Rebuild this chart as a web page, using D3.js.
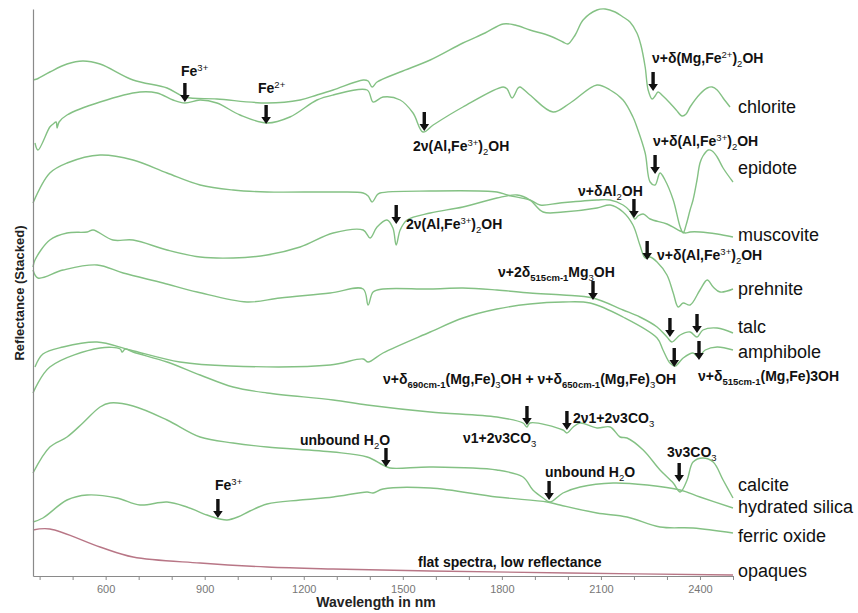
<!DOCTYPE html>
<html>
<head>
<meta charset="utf-8">
<script src="https://cdn.jsdelivr.net/npm/d3@7"></script>
<style>
  body { margin: 0; background: #fff; }
  svg { display: block; font-family: Arial, "Liberation Sans", sans-serif; }
</style>
</head>
<body>
<svg id="chart" width="858" height="613"></svg>
<script>
// Stacked reflectance spectra: [wavelength nm, stacked reflectance (offset units)]
const chlorite = [[380,496],[392,497],[431,504],[483,512],[531,515],[583,512],[683,496],[786,488],[840,479],[937,477],[1089,473],[1189,476],[1240,481],[1289,486],[1380,496],[1395,495],[1407,489],[1422,494],[1492,504],[1583,516],[1682,533],[1749,543],[1804,552],[1840,551],[1885,546],[1946,540],[1985,534],[2000,532],[2022,541],[2046,556],[2088,566],[2113,567],[2143,564],[2167,559],[2188,554],[2209,543],[2221,531],[2234,509],[2243,486],[2255,477],[2264,480],[2273,484],[2288,480],[2309,473],[2328,466],[2346,460],[2358,462],[2370,469],[2400,482],[2422,488],[2437,489],[2452,486],[2470,478],[2491,469]];
const epidote = [[386,433],[395,426],[431,449],[441,452],[450,454],[453,448],[459,454],[483,461],[583,474],[704,484],[756,483],[804,476],[840,473],[886,476],[937,473],[1007,461],[1089,453],[1158,459],[1240,476],[1289,481],[1392,486],[1410,474],[1440,479],[1492,476],[1531,463],[1561,444],[1592,451],[1682,469],[1804,489],[1816,487],[1831,478],[1849,488],[1855,489],[1885,481],[1955,464],[2007,473],[2088,491],[2128,486],[2167,476],[2197,459],[2209,449],[2234,423],[2249,394],[2264,391],[2279,403],[2294,396],[2319,376],[2340,349],[2349,343],[2358,351],[2370,366],[2379,376],[2391,396],[2400,413],[2409,420],[2425,426],[2437,425],[2452,419],[2470,408],[2500,394]];
const muscovite = [[380,373],[431,403],[483,413],[583,421],[683,416],[786,403],[886,391],[986,386],[1089,384],[1289,384],[1380,383],[1395,380],[1407,374],[1422,381],[1431,383],[1583,385],[1785,384],[1816,381],[1885,376],[1916,371],[1976,373],[2088,376],[2128,376],[2167,371],[2188,365],[2203,357],[2212,360],[2228,362],[2249,357],[2300,352],[2340,345],[2355,343],[2370,344],[2400,344],[2452,342],[2500,339]];
const prehnite = [[380,309],[386,316],[431,336],[483,343],[544,344],[562,346],[622,336],[683,336],[786,326],[886,319],[986,318],[1089,321],[1189,329],[1289,343],[1380,346],[1401,338],[1422,349],[1452,356],[1470,348],[1480,331],[1492,346],[1513,356],[1583,363],[1682,369],[1785,378],[1846,381],[1885,376],[1925,364],[1985,364],[2088,368],[2128,371],[2167,364],[2197,351],[2218,331],[2234,318],[2249,319],[2270,314],[2300,301],[2319,283],[2334,269],[2349,273],[2370,271],[2400,286],[2422,296],[2440,289],[2461,284],[2500,287]];
const talc = [[380,306],[395,298],[471,306],[574,311],[653,303],[774,293],[877,284],[1028,274],[1128,278],[1280,283],[1380,287],[1395,271],[1410,284],[1440,287],[1583,287],[1682,288],[1785,286],[1885,283],[1985,281],[2076,278],[2167,266],[2218,259],[2270,249],[2300,239],[2315,234],[2340,241],[2370,244],[2391,239],[2409,246],[2452,248],[2500,243]];
const amphibole = [[386,209],[410,222],[471,229],[574,234],[674,226],[825,214],[977,210],[1280,211],[1380,217],[1395,214],[1440,223],[1583,244],[1682,258],[1785,267],[1885,272],[1985,274],[2067,273],[2167,259],[2270,238],[2288,226],[2309,213],[2325,210],[2349,218],[2379,223],[2394,219],[2416,226],[2452,229],[2500,226]];
const calcite = [[380,183],[431,209],[583,228],[644,227],[650,224],[659,227],[683,224],[786,214],[886,201],[986,189],[1089,183],[1289,176],[1392,171],[1583,164],[1785,159],[1864,153],[1876,149],[1885,153],[1985,146],[1997,143],[2016,149],[2037,153],[2088,148],[2128,149],[2158,139],[2179,138],[2228,126],[2279,106],[2319,93],[2340,84],[2361,96],[2379,114],[2409,118],[2440,114],[2470,96],[2500,78]];
const hydratedSilica = [[380,103],[431,129],[483,139],[531,153],[583,169],[613,173],[683,170],[786,156],[886,139],[986,133],[1089,129],[1289,124],[1392,119],[1440,111],[1461,108],[1583,109],[1785,106],[1864,99],[1894,86],[1925,78],[1946,74],[1985,83],[2037,89],[2137,93],[2240,91],[2340,86],[2400,79],[2500,68]];
const ferricOxide = [[380,54],[410,58],[483,76],[544,81],[634,78],[704,71],[786,74],[846,69],[907,61],[946,57],[968,56],[1000,59],[1037,65],[1089,72],[1189,76],[1289,79],[1392,84],[1410,83],[1440,87],[1583,88],[1785,79],[1937,74],[1976,71],[2088,63],[2179,59],[2279,49],[2379,48],[2500,43]];
const opaques = [[380,46],[431,47],[583,29],[683,19],[886,13],[1089,9],[1289,7],[1583,5],[2000,3],[2500,1]];

const seriesNames = ["chlorite","epidote","muscovite","prehnite","talc","amphibole","calcite","hydrated silica","ferric oxide","opaques"];
const seriesData = [chlorite, epidote, muscovite, prehnite, talc, amphibole, calcite, hydratedSilica, ferricOxide, opaques];

// Absorption-feature arrows: [wavelength nm, stacked reflectance at arrow tip]
const arrowMarks = [[840,474],[1086,452],[1565,445],[2258,485],[2264,402],[2200,358],[1480,352],[2240,316],[2076,276],[2309,239],[2391,243],[2322,209],[2397,216],[1876,151],[1997,146],[2337,94],[1449,109],[1943,76],[940,58]];

// Feature labels (markup: ^{..} superscript, _{..} subscript)
const featureLabels = ["Fe^{3+}","Fe^{2+}","2ν(Al,Fe^{3+})_{2}OH","ν+δ(Mg,Fe^{2+})_{2}OH","ν+δ(Al,Fe^{3+})_{2}OH","ν+δAl_{2}OH","2ν(Al,Fe^{3+})_{2}OH","ν+δ(Al,Fe^{3+})_{2}OH","ν+2δ_{515cm-1}Mg_{3}OH","ν+δ_{690cm-1}(Mg,Fe)_{3}OH + ν+δ_{650cm-1}(Mg,Fe)_{3}OH","ν+δ_{515cm-1}(Mg,Fe)3OH","ν1+2ν3CO_{3}","2ν1+2ν3CO_{3}","3ν3CO_{3}","unbound H_{2}O","unbound H_{2}O","Fe^{3+}","flat spectra, low reflectance"];

const xTickValues = d3.range(400, 2501, 100);
const xTickLabels = [600, 900, 1200, 1500, 1800, 2100, 2400];

// ---- layout ----
const plot = { left: 33, right: 733, top: 9, bottom: 576 };
const lineColor = "#84c184";
const opaqueColor = "#b87686";
const nameY = [107, 168, 235, 289, 327, 352, 485, 507, 536, 571];
const labelPos = [[181,76],[258,93],[413,151],[652,63],[653,146],[578,196],[406,229],[657,260],[498,277],[383,384],[698,381],[463,443],[573,423],[667,457],[300,445],[545,477],[215,490],[418,567]];
const labelSize = 14;

const svg = d3.select("#chart");
const x = d3.scaleLinear().domain([380, 2500]).range([plot.left, plot.right]);
const y = d3.scaleLinear().domain([0, 567]).range([plot.bottom, plot.top]);

const line = d3.line()
  .x(d => x(d[0]))
  .y(d => y(d[1]))
  .curve(d3.curveCatmullRom.alpha(0.5));

// spectra
svg.append("g").selectAll("path")
  .data(seriesData)
  .join("path")
  .attr("d", line)
  .attr("fill", "none")
  .attr("stroke", (d, i) => seriesNames[i] === "opaques" ? opaqueColor : lineColor)
  .attr("stroke-width", 1.4)
  .attr("stroke-linejoin", "round");

// axes
const xAxis = d3.axisBottom(x)
  .tickValues(xTickValues)
  .tickSize(4)
  .tickSizeOuter(0)
  .tickPadding(5)
  .tickFormat(v => xTickLabels.includes(v) ? String(v) : "");
const gx = svg.append("g").attr("transform", `translate(0,${plot.bottom})`).call(xAxis);
gx.select(".domain").attr("stroke", "#8a8a8a").attr("stroke-width", 1.2);
gx.selectAll(".tick line").attr("stroke", "#8a8a8a");
gx.selectAll(".tick text").attr("fill", "#777").attr("font-size", 11).attr("font-family", "Arial, 'Liberation Sans', sans-serif");

const gy = svg.append("g").attr("transform", `translate(${plot.left},0)`)
  .call(d3.axisLeft(y).ticks(0).tickSizeOuter(0));
gy.select(".domain").attr("stroke", "#8a8a8a").attr("stroke-width", 1.2);

// axis titles
svg.append("text")
  .attr("x", 376).attr("y", 607)
  .attr("text-anchor", "middle")
  .attr("font-size", 14).attr("font-weight", "bold").attr("fill", "#222")
  .text("Wavelength in nm");
svg.append("text")
  .attr("transform", "translate(24,293) rotate(-90)")
  .attr("text-anchor", "middle")
  .attr("font-size", 13).attr("font-weight", "bold").attr("fill", "#222")
  .text("Reflectance (Stacked)");

// mineral names
svg.append("g").selectAll("text")
  .data(seriesNames)
  .join("text")
  .attr("x", 738)
  .attr("y", (d, i) => nameY[i])
  .attr("dy", "0.35em")
  .attr("font-size", 18)
  .attr("fill", "#111")
  .text(d => d);

// arrows
const arrowPath = (tx, ty) =>
  `M${tx - 1.7},${ty - 19}H${tx + 1.7}V${ty - 7}H${tx + 4.8}L${tx},${ty}L${tx - 4.8},${ty - 7}H${tx - 1.7}Z`;
svg.append("g").selectAll("path")
  .data(arrowMarks)
  .join("path")
  .attr("d", d => arrowPath(x(d[0]), y(d[1])))
  .attr("fill", "#111");

// rich text with sub/superscripts
function richText(sel, markup, size) {
  const parts = markup.match(/\^\{[^}]*\}|_\{[^}]*\}|[^^_]+/g);
  let shift = 0;
  parts.forEach(p => {
    let kind = "n", t = p;
    if (p.startsWith("^{")) { kind = "sup"; t = p.slice(2, -1); }
    else if (p.startsWith("_{")) { kind = "sub"; t = p.slice(2, -1); }
    const target = kind === "sup" ? -size * 0.38 : kind === "sub" ? size * 0.3 : 0;
    sel.append("tspan")
      .attr("dy", target - shift)
      .attr("font-size", kind === "n" ? size : size * 0.68)
      .attr("font-weight", kind === "n" ? "bold" : (kind === "sub" && /cm/.test(t) ? "bold" : "normal"))
      .text(t);
    shift = target;
  });
}

const gLabels = svg.append("g").attr("fill", "#111");
featureLabels.forEach((m, i) => {
  const t = gLabels.append("text")
    .attr("x", labelPos[i][0])
    .attr("y", labelPos[i][1])
    .attr("font-size", labelSize);
  richText(t, m, labelSize);
});
</script>
</body>
</html>
